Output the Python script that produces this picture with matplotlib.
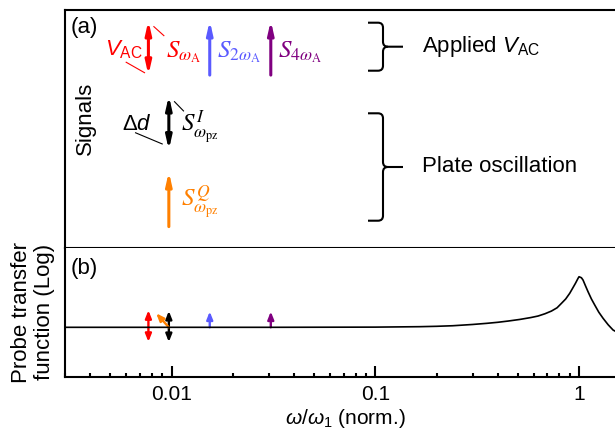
import matplotlib
matplotlib.use("Agg")
import matplotlib.pyplot as plt
from matplotlib.patches import FancyArrowPatch, PathPatch
from matplotlib.path import Path
from matplotlib.transforms import Affine2D

plt.rcParams['font.family'] = ['Liberation Sans', 'DejaVu Sans']
plt.rcParams['mathtext.fontset'] = 'custom'
plt.rcParams['mathtext.rm'] = 'Liberation Sans'
plt.rcParams['mathtext.it'] = 'Liberation Sans:italic'
plt.rcParams['mathtext.bf'] = 'Liberation Sans:bold'

# frequencies, normalised to omega_1
w_A = 0.0077
w_2A = 0.0154
w_4A = 0.0307
w_pz = 0.0097

# probe transfer function (log10 units)
tf_w = [0.003, 0.01, 0.03, 0.1, 0.165, 0.2, 0.24, 0.3, 0.352, 0.4, 0.45,
        0.512, 0.58, 0.629, 0.68, 0.732, 0.78, 0.82, 0.86, 0.90, 0.93, 0.96,
        0.989, 1.0, 1.027, 1.046, 1.075, 1.107, 1.15, 1.194, 1.25, 1.312,
        1.39, 1.469, 1.5]
tf_log = [0.0, 0.0, 0.0, 0.003, 0.01, 0.016, 0.025, 0.045, 0.063, 0.08, 0.10,
          0.125, 0.155, 0.179, 0.215, 0.258, 0.31, 0.381, 0.45, 0.54, 0.62,
          0.698, 0.778, 0.803, 0.787, 0.751, 0.66, 0.565, 0.45, 0.354, 0.24,
          0.143, 0.04, -0.043, -0.059]

# panel (a): vertical extent of the signal arrows (fraction of panel height)
vac_y = (0.726, 0.955)
pz_i_y = (0.411, 0.639)
pz_q_y = (0.088, 0.319)

# panel (b): arrow extents in log10 units
b_red = (-0.23, 0.27)
b_black = (-0.233, 0.259)
b_up = 0.25
b_orange = (0.00841, 0.222)

red = '#FF0000'
blue = '#5A5AFF'
purple = '#800080'
orange = '#FF8000'

fig = plt.figure(figsize=(6.15, 4.41), dpi=100)
# reference-pixel transform for annotations
px = Affine2D().scale(1 / 615, -1 / 441).translate(0, 1) + fig.transFigure

W = 561 / 615
ax_top = fig.add_axes([65 / 615, 193.5 / 441, W, 237.5 / 441])
ax_bot = fig.add_axes([65 / 615, 64.3 / 441, W, 129.2 / 441], sharex=ax_top)

ax_bot.set_xscale('log')
ax_bot.set_xlim(0.003, 1.7)
ax_top.set_ylim(0, 1)
ax_bot.set_ylim(-0.784, 1.267)

for ax in (ax_top, ax_bot):
    for s in ax.spines.values():
        s.set_linewidth(1.5)
ax_bot.spines['top'].set_visible(False)
ax_top.tick_params(which='both', bottom=False, labelbottom=False,
                   left=False, labelleft=False)


def arrow(ax, p0, p1, color, style, lw):
    ax.add_patch(FancyArrowPatch(p0, p1, arrowstyle=style, mutation_scale=10,
                                 lw=lw, color=color, shrinkA=0, shrinkB=0))


big_up = '-|>,head_length=0.75,head_width=0.17'
big_dbl = '<|-|>,head_length=0.75,head_width=0.17'
small_up = '-|>,head_length=0.45,head_width=0.18'
small_dbl = '<|-|>,head_length=0.45,head_width=0.18'

# panel (a) arrows
arrow(ax_top, (w_A, vac_y[0]), (w_A, vac_y[1]), red, big_dbl, 2.2)
arrow(ax_top, (w_2A, vac_y[0]), (w_2A, vac_y[1]), blue, big_up, 2.2)
arrow(ax_top, (w_4A, vac_y[0]), (w_4A, vac_y[1]), purple, big_up, 2.2)
arrow(ax_top, (w_pz, pz_i_y[0]), (w_pz, pz_i_y[1]), 'black', big_dbl, 2.2)
arrow(ax_top, (w_pz, pz_q_y[0]), (w_pz, pz_q_y[1]), orange, big_up, 2.2)

# leader lines
ax_top.plot([0.00599, 0.00737], [0.780, 0.736], color=red, lw=0.8)
ax_top.plot([0.00819, 0.00917], [0.930, 0.892], color=red, lw=0.8)
ax_top.plot([0.00666, 0.0090], [0.483, 0.436], color='black', lw=0.8)
ax_top.plot([0.01034, 0.01145], [0.614, 0.575], color='black', lw=0.8)

# labels of panel (a)
fig.text(71, 28, '(a)', transform=px, fontsize=16, ha='left', va='center')
fig.text(85, 118, 'Signals', transform=px, fontsize=16, rotation=90,
         ha='center', va='center')
fig.text(143, 55, r'$V_\mathrm{AC}$', transform=px, fontsize=16, color=red,
         ha='right', va='baseline')
fig.text(166, 57, r'$S_{\omega_\mathrm{A}}$', transform=px, fontsize=18,
         color=red, ha='left', va='baseline', math_fontfamily='stix')
fig.text(216.7, 57, r'$S_{2\omega_\mathrm{A}}$', transform=px, fontsize=18,
         color=blue, ha='left', va='baseline', math_fontfamily='stix')
fig.text(278.3, 57, r'$S_{4\omega_\mathrm{A}}$', transform=px, fontsize=18,
         color=purple, ha='left', va='baseline', math_fontfamily='stix')
fig.text(151.7, 130, r'Δ$d$', transform=px, fontsize=16, ha='right',
         va='baseline')
fig.text(180.7, 131.7, r'$S^I_{\omega_\mathrm{pz}}$', transform=px,
         fontsize=18, ha='left', va='baseline', math_fontfamily='stix')
fig.text(180.7, 206.7, r'$S^Q_{\omega_\mathrm{pz}}$', transform=px,
         fontsize=18, color=orange, ha='left', va='baseline',
         math_fontfamily='stix')


def brace(x, y0, y1, r=5, arm=15, tip=20):
    ym = (y0 + y1) / 2
    upper = Path([(x - arm, y0), (x - r, y0), (x, y0), (x, y0 + r),
                  (x, ym - r), (x, ym), (x + r, ym), (x + tip, ym)],
                 [Path.MOVETO, Path.LINETO, Path.CURVE3, Path.CURVE3,
                  Path.LINETO, Path.CURVE3, Path.CURVE3, Path.LINETO])
    lower = Path([(x - arm, y1), (x - r, y1), (x, y1), (x, y1 - r),
                  (x, ym + r), (x, ym), (x + r, ym)],
                 [Path.MOVETO, Path.LINETO, Path.CURVE3, Path.CURVE3,
                  Path.LINETO, Path.CURVE3, Path.CURVE3])
    for p in (upper, lower):
        fig.add_artist(PathPatch(p, transform=px, fill=False, lw=1.5,
                                 edgecolor='black', capstyle='butt'))


brace(383, 22.7, 70.7)
brace(383, 113.3, 220.7)
fig.text(422, 46.7, r'Applied $V_\mathrm{AC}$', transform=px, fontsize=16,
         ha='left', va='center')
fig.text(422, 167, 'Plate oscillation', transform=px, fontsize=16,
         ha='left', va='center')

# panel (b)
ax_bot.plot(tf_w, tf_log, color='black', lw=1.2)
arrow(ax_bot, (w_A, b_red[0]), (w_A, b_red[1]), red, small_dbl, 1.7)
arrow(ax_bot, (w_pz, b_black[0]), (w_pz, b_black[1]), 'black', small_dbl, 1.7)
arrow(ax_bot, (w_2A, 0), (w_2A, b_up), blue, small_up, 1.7)
arrow(ax_bot, (w_4A, 0), (w_4A, b_up), purple, small_up, 1.7)
arrow(ax_bot, (w_pz, 0), b_orange, orange, small_up, 1.7)
fig.text(71, 268.7, '(b)', transform=px, fontsize=16, ha='left', va='center')

ax_bot.set_yticks([])
ax_bot.set_xticks([0.01, 0.1, 1], ['0.01', '0.1', '1'])
ax_bot.xaxis.set_minor_formatter(plt.NullFormatter())
ax_bot.tick_params(axis='x', which='major', direction='in', length=7.7,
                   width=1.5, labelsize=15, pad=6, top=False)
ax_bot.tick_params(axis='x', which='minor', direction='in', length=3,
                   width=1.5, top=False)
ax_bot.set_xlabel(r'$\omega/\omega_1$ (norm.)', fontsize=15, labelpad=2)
ax_bot.set_ylabel('Probe transfer\nfunction (Log)', fontsize=16,
                  labelpad=7, linespacing=1.15)

fig.savefig('out.png', dpi=100)
